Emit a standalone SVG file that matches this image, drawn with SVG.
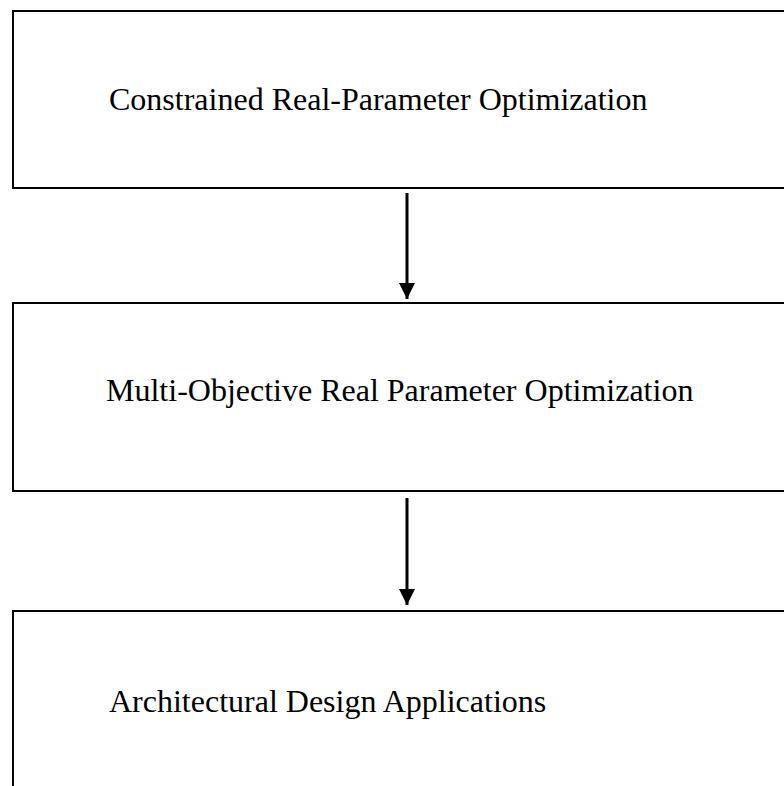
<svg xmlns="http://www.w3.org/2000/svg" width="784" height="786" viewBox="0 0 784 786">
<style>
.box{fill:#fff;stroke:#000;stroke-width:2}
.lbl{font-family:"Liberation Serif","Times New Roman",serif;font-size:32px;fill:#000}
.conn{stroke:#000;stroke-width:3;fill:none}
</style>
<defs>
<marker id="ah" markerUnits="userSpaceOnUse" markerWidth="16" markerHeight="16" refX="16" refY="8" orient="auto">
<path d="M0,0 L16,8 L0,16 Z" fill="#000"/>
</marker>
</defs>
<rect width="784" height="786" fill="#fff"/>
<g id="node1">
<rect class="box" x="13" y="11" width="790" height="177"/>
<text class="lbl" x="109" y="110">Constrained Real-Parameter Optimization</text>
</g>
<g id="node2">
<rect class="box" x="13" y="303" width="790" height="188"/>
<text class="lbl" x="106" y="401">Multi-Objective Real Parameter Optimization</text>
</g>
<g id="node3">
<rect class="box" x="13" y="611" width="790" height="200"/>
<text class="lbl" x="109" y="712">Architectural Design Applications</text>
</g>
<g id="connectors">
<line class="conn" x1="407" y1="193" x2="407" y2="299" marker-end="url(#ah)"/>
<line class="conn" x1="407" y1="498" x2="407" y2="605" marker-end="url(#ah)"/>
</g>
</svg>
